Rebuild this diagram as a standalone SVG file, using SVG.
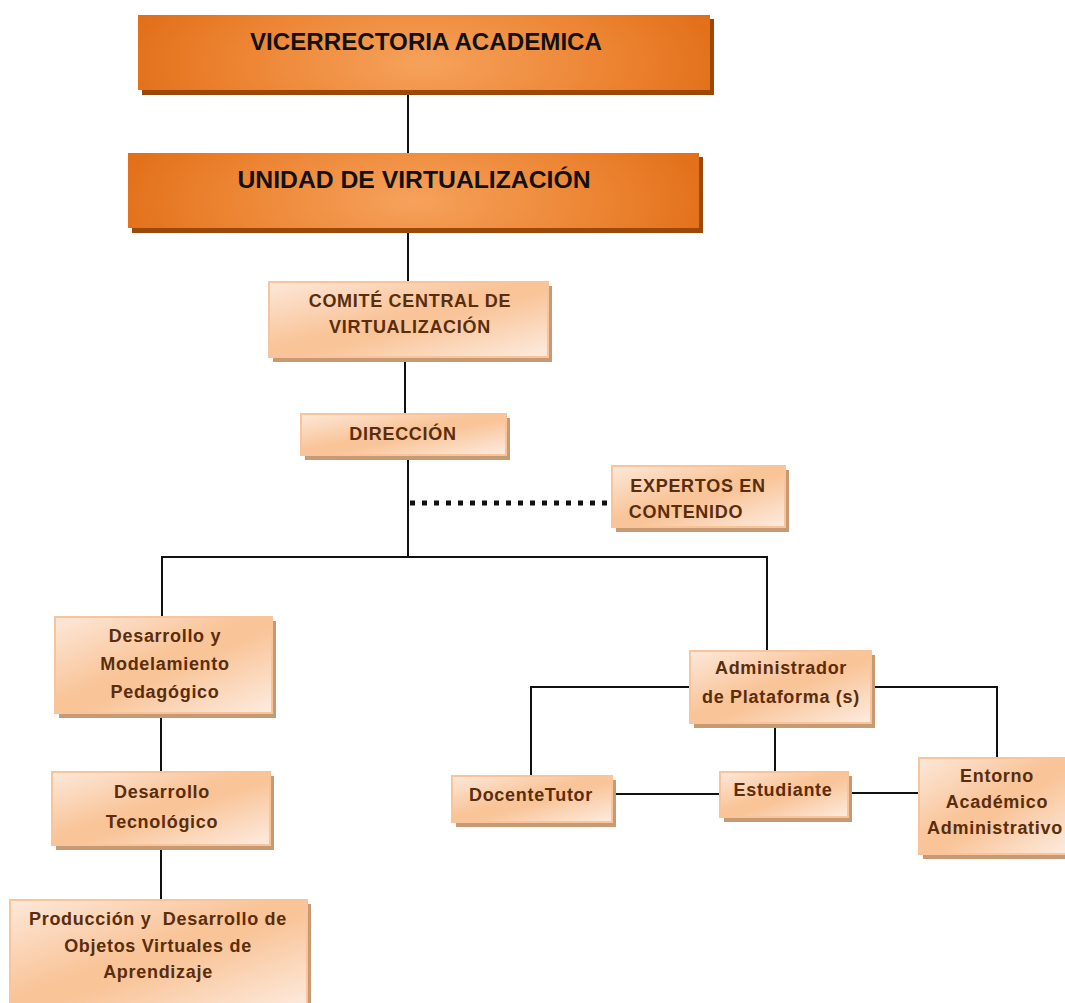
<svg xmlns="http://www.w3.org/2000/svg" width="1065" height="1003" viewBox="0 0 1065 1003">
<defs>
<radialGradient id="og" cx="0.5" cy="0.65" r="0.6" gradientTransform="translate(0.5 0.65) scale(1 3) translate(-0.5 -0.65)">
<stop offset="0" stop-color="#f6a25c"/>
<stop offset="0.55" stop-color="#ec8432"/>
<stop offset="1" stop-color="#df6810"/>
</radialGradient>
<linearGradient id="pg" x1="0" y1="0" x2="1" y2="1">
<stop offset="0" stop-color="#fde8da"/>
<stop offset="0.45" stop-color="#f9c498"/>
<stop offset="0.55" stop-color="#f9c498"/>
<stop offset="1" stop-color="#fdece0"/>
</linearGradient>
<style>
.oshadow{fill:#9c4908}
.obox{fill:url(#og)}
.otext{font-family:"Liberation Sans",Arial,sans-serif;font-weight:bold;font-size:24px;fill:#111;text-anchor:middle}
.pshadow{fill:#c89a74}
.pbox{fill:url(#pg);stroke:#f9c49a;stroke-width:2}
.ptext{font-family:"Liberation Sans",Arial,sans-serif;font-weight:bold;font-size:18px;fill:#5a2d0c;text-anchor:middle;letter-spacing:0.7px;white-space:pre}
.ln{stroke:#111;stroke-width:2;fill:none}
</style>
</defs>
<g id="connectors">
<line class="ln" x1="408" y1="90" x2="408" y2="153"/>
<line class="ln" x1="408" y1="228" x2="408" y2="283"/>
<line class="ln" x1="405" y1="360" x2="405" y2="414"/>
<line class="ln" x1="408" y1="458" x2="408" y2="557"/>
<line x1="410" y1="503" x2="608" y2="503" stroke="#111" stroke-width="5" stroke-dasharray="5 7"/>
<polyline class="ln" points="162,617 162,557 767,557 767,651"/>
<line class="ln" x1="161" y1="716" x2="161" y2="772"/>
<line class="ln" x1="161" y1="848" x2="161" y2="900"/>
<polyline class="ln" points="690,687 531,687 531,777"/>
<polyline class="ln" points="871,687 997,687 997,759"/>
<line class="ln" x1="775" y1="726" x2="775" y2="773"/>
<line class="ln" x1="612" y1="794" x2="720" y2="794"/>
<line class="ln" x1="848" y1="793" x2="919" y2="793"/>
</g>
<g id="vicerrectoria">
<rect class="oshadow" x="142" y="19" width="572" height="76"/>
<rect class="obox" x="138" y="15" width="572" height="75"/>
<text class="otext" x="426" y="50" textLength="352" lengthAdjust="spacingAndGlyphs">VICERRECTORIA ACADEMICA</text>
</g>
<g id="unidad">
<rect class="oshadow" x="132" y="157" width="571" height="76"/>
<rect class="obox" x="128" y="153" width="571" height="75"/>
<text class="otext" x="414" y="188" textLength="353" lengthAdjust="spacingAndGlyphs">UNIDAD DE VIRTUALIZACIÓN</text>
</g>
<g id="comite">
<rect class="pshadow" x="273" y="286" width="279" height="76"/>
<rect class="pbox" x="269" y="282" width="279" height="75"/>
<text class="ptext" x="410" y="307">COMITÉ CENTRAL DE</text>
<text class="ptext" x="410" y="333">VIRTUALIZACIÓN</text>
</g>
<g id="direccion">
<rect class="pshadow" x="305" y="418" width="205" height="42"/>
<rect class="pbox" x="301" y="414" width="205" height="41"/>
<text class="ptext" x="403" y="440">DIRECCIÓN</text>
</g>
<g id="expertos">
<rect class="pshadow" x="616" y="470" width="173" height="62"/>
<rect class="pbox" x="612" y="466" width="173" height="61"/>
<text class="ptext" x="698" y="492">EXPERTOS EN</text>
<text class="ptext" x="686" y="518">CONTENIDO</text>
</g>
<g id="modelamiento">
<rect class="pshadow" x="59" y="621" width="217" height="97"/>
<rect class="pbox" x="55" y="617" width="217" height="96"/>
<text class="ptext" x="165" y="642">Desarrollo y</text>
<text class="ptext" x="165" y="670">Modelamiento</text>
<text class="ptext" x="165" y="698">Pedagógico</text>
</g>
<g id="tecnologico">
<rect class="pshadow" x="56" y="776" width="218" height="74"/>
<rect class="pbox" x="52" y="772" width="218" height="73"/>
<text class="ptext" x="162" y="798">Desarrollo</text>
<text class="ptext" x="162" y="828">Tecnológico</text>
</g>
<g id="produccion">
<rect class="pshadow" x="14" y="904" width="297" height="110"/>
<rect class="pbox" x="10" y="900" width="297" height="110"/>
<text class="ptext" x="158" y="925" xml:space="preserve">Producción y  Desarrollo de</text>
<text class="ptext" x="158" y="952">Objetos Virtuales de</text>
<text class="ptext" x="158" y="978">Aprendizaje</text>
</g>
<g id="administrador">
<rect class="pshadow" x="694" y="655" width="181" height="73"/>
<rect class="pbox" x="690" y="651" width="181" height="72"/>
<text class="ptext" x="781" y="674">Administrador</text>
<text class="ptext" x="781" y="703">de Plataforma (s)</text>
</g>
<g id="docente">
<rect class="pshadow" x="456" y="780" width="160" height="47"/>
<rect class="pbox" x="452" y="776" width="160" height="46"/>
<text class="ptext" x="531" y="801">DocenteTutor</text>
</g>
<g id="estudiante">
<rect class="pshadow" x="724" y="776" width="128" height="46"/>
<rect class="pbox" x="720" y="772" width="128" height="45"/>
<text class="ptext" x="783" y="796">Estudiante</text>
</g>
<g id="entorno">
<rect class="pshadow" x="923" y="762" width="150" height="97"/>
<rect class="pbox" x="919" y="758" width="150" height="96"/>
<text class="ptext" x="997" y="782">Entorno</text>
<text class="ptext" x="997" y="808">Académico</text>
<text class="ptext" x="995" y="834">Administrativo</text>
</g>
</svg>
